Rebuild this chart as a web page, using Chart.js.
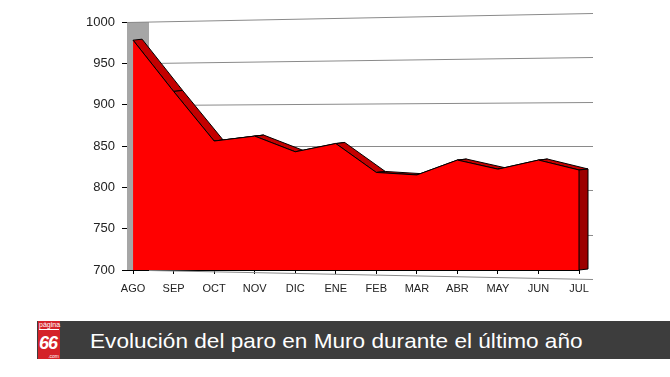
<!DOCTYPE html>
<html>
<head>
<meta charset="utf-8">
<script src="https://cdn.jsdelivr.net/npm/chart.js@4.4.1/dist/chart.umd.min.js"></script>
<style>
  body { margin: 0; width: 670px; height: 377px; overflow: hidden; background: #fff; position: relative; font-family: "Liberation Sans", Arial, sans-serif; }
  #wrap { position: absolute; left: 0; top: 0; width: 670px; height: 310px; }
  #banner { position: absolute; left: 37px; top: 321px; width: 633px; height: 38px; background: #3d3d3d; }
  #logo { position: absolute; left: 1px; top: 0; width: 22px; height: 38px; background: #d42229; color: #fff; }
  #logo .a { position: absolute; left: 1px; top: 0; font-size: 7px; line-height: 8px; border-bottom: 1px solid #fff; width: 20px; }
  #logo .b { position: absolute; left: 1px; top: 13px; font-size: 18px; line-height: 18px; font-weight: bold; font-style: italic; letter-spacing: -1px; }
  #logo .c { position: absolute; right: 1px; bottom: 0; font-size: 5px; line-height: 6px; }
  #title { position: absolute; left: 53px; top: 8px; color: #fff; font-size: 21px; line-height: 24px; white-space: nowrap; transform-origin: left center; }
</style>
</head>
<body>
<div id="wrap"><canvas id="myChart" width="670" height="310"></canvas></div>
<div id="banner">
  <div id="logo"><span class="a">página</span><span class="b">66</span><span class="c">.com</span></div>
  <span id="title">Evolución del paro en Muro durante el último año</span>
</div>
<script>
// datos
const months = ["AGO", "SEP", "OCT", "NOV", "DIC", "ENE", "FEB", "MAR", "ABR", "MAY", "JUN", "JUL"];
const paro = [978, 916, 856, 862, 843, 853, 818, 815, 833, 822, 833, 821];
const yTicks = [700, 750, 800, 850, 900, 950, 1000];

// falso 3D: pared, rejilla inclinada, canto superior y lateral
const relieve = {
  id: "relieve",
  beforeDatasetsDraw(chart) {
    const { ctx, chartArea: a, scales } = chart;
    const x = scales.x, y = scales.y;
    ctx.save();
    ctx.fillStyle = "#a6a6a6";
    ctx.fillRect(a.left, a.top, 22, a.bottom - a.top);
    ctx.strokeStyle = "#8a8a8a";
    ctx.lineWidth = 1;
    yTicks.forEach((v) => {
      const py = Math.round(y.getPixelForValue(v)) + 0.5;
      ctx.beginPath();
      ctx.moveTo(a.left + (v == 1000 ? 0 : 22), py);
      ctx.lineTo(a.right + 14, py - (v - 850) * 0.06);
      ctx.stroke();
    });
    const pts = paro.map((v, i) => ({ x: x.getPixelForValue(i), y: y.getPixelForValue(v) }));
    ctx.fillStyle = "#c40000";
    ctx.strokeStyle = "#000";
    for (let i = 0; i < pts.length - 1; i++) {
      const p = pts[i], q = pts[i + 1];
      ctx.beginPath();
      ctx.moveTo(p.x, p.y);
      ctx.lineTo(q.x, q.y);
      ctx.lineTo(q.x + 9, q.y - 1);
      ctx.lineTo(p.x + 9, p.y - 1);
      ctx.closePath();
      ctx.fill();
      ctx.stroke();
    }
    ctx.restore();
  },
  afterDatasetsDraw(chart) {
    const { ctx, chartArea: a, scales } = chart;
    const last = paro.length - 1;
    const px = scales.x.getPixelForValue(last);
    const py = scales.y.getPixelForValue(paro[last]);
    ctx.save();
    ctx.fillStyle = "#9c0000";
    ctx.strokeStyle = "#000";
    ctx.beginPath();
    ctx.moveTo(px, py);
    ctx.lineTo(px + 9, py - 1);
    ctx.lineTo(px + 9, a.bottom - 1);
    ctx.lineTo(px, a.bottom);
    ctx.closePath();
    ctx.fill();
    ctx.stroke();
    ctx.restore();
  },
};

const ctx = document.getElementById("myChart");
new Chart(ctx, {
  type: "line",
  data: {
    datasets: [
      {
        label: "Paro",
        data: paro.map((v, i) => ({ x: i, y: v })),
        fill: "start",
        backgroundColor: "#ff0000",
        borderColor: "#000",
        borderWidth: 1,
        pointRadius: 0,
        tension: 0,
      },
    ],
  },
  options: {
    responsive: false,
    animation: false,
    devicePixelRatio: 1,
    layout: { padding: { top: 22, right: 91, left: 0, bottom: 0 } },
    plugins: { legend: { display: false }, tooltip: { enabled: false } },
    scales: {
      x: {
        type: "linear",
        min: -0.15,
        max: 11,
        afterBuildTicks: (s) => { s.ticks = months.map((m, i) => ({ value: i })); },
        afterFit: (s) => { s.height = 40; },
        grid: { drawOnChartArea: false, tickLength: 4, color: "#000" },
        border: { color: "#000" },
        ticks: {
          callback: (v) => months[Math.round(v)],
          font: { family: "Liberation Sans", size: 11 },
          color: "#222",
          padding: 8,
          maxRotation: 0,
        },
      },
      y: {
        min: 700,
        max: 1000,
        afterFit: (s) => { s.width = 127; },
        grid: { drawOnChartArea: false, tickLength: 5, color: "#000" },
        border: { color: "#000" },
        ticks: {
          stepSize: 50,
          callback: (v) => String(v),
          font: { family: "Liberation Sans", size: 13 },
          color: "#222",
          padding: 7,
        },
      },
    },
  },
  plugins: [relieve],
});

// ajustar ancho del titulo
const t = document.getElementById("title");
t.style.transform = "scaleX(" + (493 / t.offsetWidth) + ")";
</script>
</body>
</html>
